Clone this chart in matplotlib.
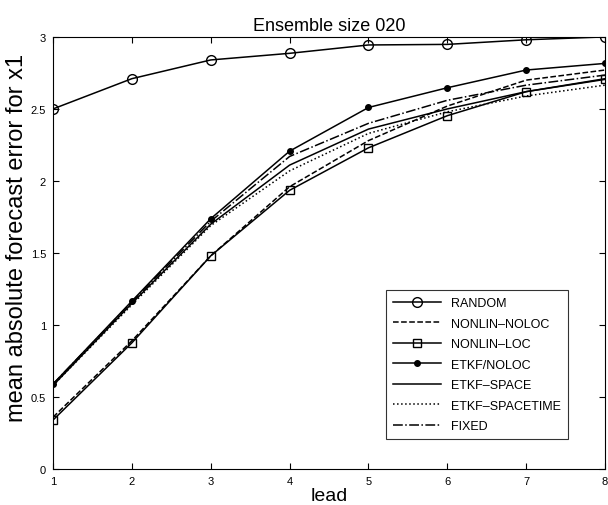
import matplotlib
matplotlib.use("Agg")
import matplotlib.pyplot as plt

plt.rcParams['font.family'] = ['Liberation Sans', 'DejaVu Sans']

lead = [1, 2, 3, 4, 5, 6, 7, 8]

random_err = [2.50, 2.71, 2.84, 2.886, 2.944, 2.948, 2.98, 3.0]
nonlin_noloc = [0.36, 0.89, 1.48, 1.96, 2.28, 2.52, 2.70, 2.77]
nonlin_loc = [0.34, 0.876, 1.48, 1.935, 2.23, 2.453, 2.62, 2.705]
etkf_noloc = [0.59, 1.166, 1.738, 2.207, 2.51, 2.647, 2.77, 2.816]
etkf_space = [0.58, 1.15, 1.70, 2.11, 2.36, 2.50, 2.62, 2.71]
etkf_spacetime = [0.58, 1.14, 1.69, 2.07, 2.33, 2.48, 2.59, 2.665]
fixed = [0.59, 1.16, 1.72, 2.17, 2.40, 2.56, 2.665, 2.735]

fig = plt.figure(figsize=(6.08, 5.06), dpi=100)
ax = fig.add_axes([0.0872, 0.0711, 0.908, 0.854])

k = dict(color="black", lw=1.1)
ax.plot(lead, random_err, "-o", mfc="none", ms=7, mew=1.0, label="RANDOM", **k)
ax.plot(lead, nonlin_noloc, "--", label="NONLIN\u2013NOLOC", **k)
ax.plot(lead, nonlin_loc, "-s", mfc="none", ms=6, mew=1.0, label="NONLIN\u2013LOC", **k)
ax.plot(lead, etkf_noloc, "-o", ms=4, label="ETKF/NOLOC", **k)
ax.plot(lead, etkf_space, "-", label="ETKF\u2013SPACE", **k)
ax.plot(lead, etkf_spacetime, ":", label="ETKF\u2013SPACETIME", **k)
ax.plot(lead, fixed, "-.", label="FIXED", **k)

ax.set_xlim(1, 8)
ax.set_ylim(0, 3)
ax.set_xticks(lead)
ax.set_yticks([0, 0.5, 1, 1.5, 2, 2.5, 3])
ax.set_yticklabels(["0", "0.5", "1", "1.5", "2", "2.5", "3"])
ax.tick_params(direction="in", top=True, right=True, labelsize=8, length=4, pad=5)
for s in ax.spines.values():
    s.set_linewidth(0.8)

ax.set_xlabel("lead", fontsize=14, labelpad=1)
ax.set_ylabel("mean absolute forecast error for x1", fontsize=17)
ax.yaxis.set_label_coords(-0.046, 0.537)
ax.set_title("Ensemble size 020", fontsize=13, pad=5)

leg = ax.legend(loc="lower right", bbox_to_anchor=(0.933, 0.069), fontsize=9,
                frameon=True, fancybox=False, edgecolor="black", handlelength=3.9,
                labelspacing=0.68, borderpad=0.55, borderaxespad=0)
leg.get_frame().set_linewidth(0.8)

fig.savefig("out.png", dpi=100)
